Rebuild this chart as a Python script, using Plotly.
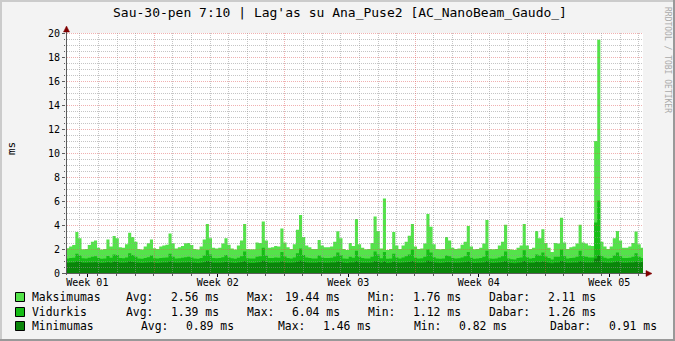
import plotly.graph_objects as go

# ---------------- data ----------------
TITLE = "Sau-30-pen 7:10 | Lag'as su Ana_Puse2 [AC_NanoBeam_Gaudo_]"
Y_LABEL = "ms"
WATERMARK = "RRDTOOL / TOBI OETIKER"
WEEK_LABELS = ["Week 01", "Week 02", "Week 03", "Week 04", "Week 05"]
SERIES_NAMES = ["Maksimumas", "Vidurkis", "Minimumas"]
STAT_LABELS = ["Avg:", "Max:", "Min:", "Dabar:"]
MAX_STATS = ["2.56 ms", "19.44 ms", "1.76 ms", "2.11 ms"]
AVG_STATS = ["1.39 ms", "6.04 ms", "1.12 ms", "1.26 ms"]
MIN_STATS = ["0.89 ms", "1.46 ms", "0.82 ms", "0.91 ms"]

# 4-hour samples (ms)
MAX_VALUES = [
    2.06, 2.20, 2.33, 3.42, 2.90, 1.97, 2.00, 2.33, 2.60, 2.70,
    2.10, 1.95, 2.00, 2.80, 2.20, 3.08, 2.90, 2.15, 2.10, 2.40,
    3.36, 3.00, 2.60, 2.00, 1.95, 2.20, 2.47, 2.80, 2.06, 2.00,
    2.20, 2.30, 2.35, 3.30, 2.47, 2.05, 2.15, 2.25, 2.47, 2.50,
    2.33, 2.00, 1.95, 2.20, 2.80, 4.08, 2.90, 2.10, 2.05, 2.10,
    2.45, 2.90, 2.35, 2.05, 1.95, 2.30, 2.70, 4.08, 2.00, 1.98,
    1.98, 2.55, 2.50, 4.30, 2.70, 2.10, 2.15, 2.25, 2.20, 3.70,
    2.55, 2.15, 2.00, 2.40, 3.60, 4.83, 3.00, 2.30, 2.15, 2.00,
    2.00, 2.75, 2.30, 2.15, 2.15, 2.20, 2.60, 3.47, 2.90, 2.00,
    1.92, 2.50, 2.25, 4.50, 2.40, 2.10, 1.98, 2.00, 2.50, 4.70,
    3.50, 2.05, 6.20, 1.92, 2.00, 3.42, 2.30, 2.00, 2.30, 2.60,
    3.10, 4.08, 2.20, 2.00, 2.05, 2.45, 4.92, 3.86, 2.40, 2.00,
    1.98, 2.00, 3.00, 2.70, 2.10, 2.00, 2.05, 2.35, 2.60, 3.92,
    2.20, 1.98, 2.00, 2.10, 2.45, 4.42, 2.00, 1.98, 2.00, 2.30,
    2.60, 4.03, 2.00, 1.95, 1.92, 2.10, 2.30, 4.08, 2.30, 2.00,
    2.10, 3.50, 2.90, 3.64, 2.50, 2.10, 1.76, 2.50, 2.45, 4.60,
    2.55, 2.00, 2.15, 2.20, 2.45, 4.03, 2.55, 2.45, 2.30, 2.25,
    11.00, 19.44, 2.60, 2.20, 2.00, 2.20, 2.90, 3.50, 2.70, 2.10,
    2.10, 2.20, 2.50, 3.46, 2.40, 2.11,
]
AVG_VALUES = [
    1.20, 1.25, 1.28, 1.60, 1.45, 1.22, 1.20, 1.28, 1.35, 1.40,
    1.25, 1.18, 1.20, 1.42, 1.28, 1.55, 1.50, 1.25, 1.22, 1.30,
    1.65, 1.50, 1.35, 1.20, 1.18, 1.25, 1.32, 1.45, 1.22, 1.20,
    1.25, 1.28, 1.30, 1.60, 1.35, 1.20, 1.22, 1.28, 1.32, 1.35,
    1.30, 1.20, 1.18, 1.25, 1.45, 1.90, 1.55, 1.25, 1.22, 1.25,
    1.32, 1.50, 1.30, 1.22, 1.18, 1.28, 1.40, 1.80, 1.22, 1.20,
    1.20, 1.35, 1.40, 2.10, 1.45, 1.25, 1.25, 1.30, 1.28, 1.75,
    1.38, 1.25, 1.20, 1.30, 1.65, 2.05, 1.50, 1.30, 1.25, 1.20,
    1.20, 1.45, 1.30, 1.25, 1.25, 1.28, 1.38, 1.70, 1.50, 1.20,
    1.18, 1.35, 1.28, 1.85, 1.35, 1.25, 1.20, 1.20, 1.35, 1.80,
    1.55, 1.22, 1.75, 1.18, 1.20, 1.60, 1.30, 1.20, 1.30, 1.40,
    1.55, 1.95, 1.28, 1.20, 1.22, 1.35, 1.95, 1.70, 1.32, 1.20,
    1.18, 1.20, 1.45, 1.40, 1.25, 1.20, 1.22, 1.30, 1.40, 1.75,
    1.28, 1.18, 1.20, 1.25, 1.35, 1.85, 1.20, 1.18, 1.20, 1.30,
    1.40, 1.80, 1.20, 1.15, 1.12, 1.25, 1.30, 1.90, 1.32, 1.20,
    1.25, 1.55, 1.45, 1.70, 1.38, 1.25, 1.12, 1.35, 1.35, 1.95,
    1.40, 1.20, 1.25, 1.28, 1.35, 1.85, 1.40, 1.35, 1.30, 1.30,
    4.20, 6.04, 1.40, 1.28, 1.20, 1.25, 1.45, 1.70, 1.40, 1.25,
    1.25, 1.28, 1.35, 1.65, 1.35, 1.26,
]
MIN_VALUES = [
    0.86, 0.87, 0.88, 0.95, 0.92, 0.85, 0.85, 0.87, 0.88, 0.90,
    0.86, 0.84, 0.85, 0.90, 0.86, 0.93, 0.92, 0.86, 0.85, 0.87,
    0.96, 0.92, 0.88, 0.85, 0.84, 0.86, 0.88, 0.90, 0.85, 0.84,
    0.86, 0.87, 0.88, 0.95, 0.88, 0.85, 0.85, 0.87, 0.88, 0.89,
    0.88, 0.85, 0.84, 0.86, 0.90, 1.00, 0.93, 0.86, 0.85, 0.86,
    0.88, 0.92, 0.87, 0.85, 0.84, 0.87, 0.89, 0.98, 0.85, 0.84,
    0.84, 0.88, 0.90, 1.02, 0.92, 0.86, 0.86, 0.87, 0.87, 0.96,
    0.88, 0.86, 0.85, 0.87, 0.94, 1.02, 0.92, 0.87, 0.86, 0.85,
    0.85, 0.90, 0.87, 0.86, 0.86, 0.87, 0.88, 0.95, 0.92, 0.85,
    0.84, 0.88, 0.87, 0.98, 0.88, 0.86, 0.85, 0.85, 0.88, 0.97,
    0.92, 0.85, 0.96, 0.84, 0.85, 0.94, 0.87, 0.85, 0.87, 0.89,
    0.92, 1.00, 0.87, 0.85, 0.85, 0.88, 1.02, 0.95, 0.88, 0.85,
    0.84, 0.85, 0.90, 0.89, 0.86, 0.85, 0.85, 0.87, 0.89, 0.96,
    0.87, 0.84, 0.85, 0.86, 0.88, 0.98, 0.85, 0.84, 0.85, 0.87,
    0.89, 0.97, 0.85, 0.83, 0.82, 0.86, 0.87, 1.00, 0.88, 0.85,
    0.86, 0.93, 0.90, 0.95, 0.89, 0.86, 0.82, 0.88, 0.88, 1.00,
    0.89, 0.85, 0.86, 0.87, 0.88, 0.98, 0.89, 0.88, 0.87, 0.87,
    1.20, 1.46, 0.89, 0.87, 0.85, 0.86, 0.90, 0.95, 0.88, 0.86,
    0.86, 0.87, 0.88, 0.94, 0.88, 0.91,
]

# ---------------- geometry / style ----------------
W, H = 675, 341
PL, PR, PT, PB = 66, 643, 33, 273          # plot area in pixels
X_MAX = 30.955                            # days shown
Y_MAX = 20
BIN_DAYS = 1 / 6                          # 4 hour bins
DAY0 = 0.712                              # first midnight grid line (days)
WEEK_TICK0 = 1.145                        # first week label position (days)

COL_MAX = "#54E34A"
COL_AVG = "#16BD16"
COL_MIN = "#0A850A"
BACK = "#F3F3F3"
GRID = "rgba(150,150,150,0.55)"
MGRID = "rgba(222,80,80,0.45)"
AXIS = "#5C5C5C"
ARROW = "#800000"
FONT = "DejaVu Sans Mono"


def px_x(px):
    return (px - PL) / (PR - PL)


def px_y(py):
    return (PB - py) / (PB - PT)


def day_px(d):
    return PL + d * (PR - PL) / X_MAX


def val_py(v):
    return PB - v * (PB - PT) / Y_MAX


def step_xy(vals):
    xs = [i * BIN_DAYS for i in range(len(vals))] + [len(vals) * BIN_DAYS]
    ys = list(vals) + [vals[-1]]
    return xs, ys


fig = go.Figure()
for name, vals, col in [(SERIES_NAMES[0], MAX_VALUES, COL_MAX),
                        (SERIES_NAMES[1], AVG_VALUES, COL_AVG),
                        (SERIES_NAMES[2], MIN_VALUES, COL_MIN)]:
    xs, ys = step_xy(vals)
    fig.add_trace(go.Scatter(x=xs, y=ys, mode="lines", line_shape="hv",
                             line=dict(width=0, color=col), fill="tozeroy",
                             fillcolor=col, name=name, showlegend=False,
                             hoverinfo="skip"))

shapes = []
# horizontal grid (over the data, like rrdtool)
k = 1
while k * 0.5 <= Y_MAX + 1e-9:
    v = k * 0.5
    py = round(val_py(v)) + 0.5
    major = abs(v % 2) < 1e-9
    shapes.append(dict(type="line", xref="paper", yref="paper", layer="above",
                       x0=px_x(PL + 1), x1=px_x(PR), y0=px_y(py), y1=px_y(py),
                       line=dict(color=MGRID if major else GRID, width=1, dash="1px,1px")))
    k += 1
# vertical grid
k = 0
while DAY0 + k < X_MAX:
    px = round(day_px(DAY0 + k)) + 0.5
    major = (k % 7) == 4
    shapes.append(dict(type="line", xref="paper", yref="paper", layer="above",
                       x0=px_x(px), x1=px_x(px), y0=px_y(PB - 1), y1=px_y(PT),
                       line=dict(color=MGRID if major else GRID, width=1, dash="1px,1px")))
    k += 1
# axes + arrows
shapes.append(dict(type="line", xref="paper", yref="paper", layer="above",
                   x0=px_x(PL + 0.5), x1=px_x(PL + 0.5), y0=px_y(PB + 2), y1=px_y(PT - 4),
                   line=dict(color=AXIS, width=1)))
shapes.append(dict(type="line", xref="paper", yref="paper", layer="above",
                   x0=px_x(PL - 2), x1=px_x(PR + 4), y0=px_y(PB + 0.5), y1=px_y(PB + 0.5),
                   line=dict(color=AXIS, width=1)))
ax, ay = PL + 0.5, PT - 7
shapes.append(dict(type="path", xref="paper", yref="paper", layer="above",
                   path=f"M {px_x(ax)},{px_y(ay)} L {px_x(ax-3)},{px_y(ay+6)} L {px_x(ax+3)},{px_y(ay+6)} Z",
                   fillcolor=ARROW, line=dict(color=ARROW, width=0.5)))
bx, by = PR + 9, PB + 0.5
shapes.append(dict(type="path", xref="paper", yref="paper", layer="above",
                   path=f"M {px_x(bx)},{px_y(by)} L {px_x(bx-6)},{px_y(by-3)} L {px_x(bx-6)},{px_y(by+3)} Z",
                   fillcolor=ARROW, line=dict(color=ARROW, width=0.5)))
# frame (shade A top/left, shade B bottom/right)
for (x0, y0, x1, y1, c) in [(0, 0, W, 2, "#CBCBCB"), (0, 0, 2, H, "#CBCBCB"),
                            (0, H - 2, W, H, "#999999"), (W - 2, 0, W, H, "#999999")]:
    shapes.append(dict(type="rect", xref="paper", yref="paper", layer="above",
                       x0=px_x(x0), x1=px_x(x1), y0=px_y(y0), y1=px_y(y1),
                       fillcolor=c, line=dict(width=0)))

annotations = []
annotations.append(dict(text=TITLE, xref="paper", yref="paper", x=px_x(340), y=px_y(12),
                        xanchor="center", yanchor="middle", showarrow=False,
                        font=dict(family=FONT, size=13, color="#000")))
annotations.append(dict(text=Y_LABEL, xref="paper", yref="paper", x=px_x(11), y=px_y(149),
                        xanchor="center", yanchor="middle", showarrow=False, textangle=-90,
                        font=dict(family=FONT, size=11, color="#000")))
annotations.append(dict(text=WATERMARK, xref="paper", yref="paper", x=px_x(667), y=px_y(5),
                        xanchor="center", yanchor="top", showarrow=False, textangle=90,
                        font=dict(family=FONT, size=8, color="#AAAAAA")))

# legend
ROW_Y = [297, 312, 326]
LABEL_X = [[124, 245, 366, 487], [124, 245, 366, 487], [139, 276, 412, 548]]
VALUE_END_X = [[221, 342, 463, 598], [221, 342, 463, 598], [236, 373, 509, 659]]
SWATCH = [COL_MAX, COL_AVG, COL_MIN]
for r, (name, stats) in enumerate(zip(SERIES_NAMES, [MAX_STATS, AVG_STATS, MIN_STATS])):
    cy = ROW_Y[r]
    shapes.append(dict(type="rect", xref="paper", yref="paper", layer="above",
                       x0=px_x(15.5), x1=px_x(24.5), y0=px_y(cy - 4.5), y1=px_y(cy + 4.5),
                       fillcolor=SWATCH[r], line=dict(color="#000", width=1)))
    annotations.append(dict(text=name, xref="paper", yref="paper", x=px_x(30), y=px_y(cy),
                            xanchor="left", yanchor="middle", showarrow=False,
                            font=dict(family=FONT, size=11.4, color="#000")))
    for c in range(4):
        annotations.append(dict(text=STAT_LABELS[c], xref="paper", yref="paper",
                                x=px_x(LABEL_X[r][c]), y=px_y(cy), xanchor="left",
                                yanchor="middle", showarrow=False,
                                font=dict(family=FONT, size=11.4, color="#000")))
        annotations.append(dict(text=stats[c], xref="paper", yref="paper",
                                x=px_x(VALUE_END_X[r][c]), y=px_y(cy), xanchor="right",
                                yanchor="middle", showarrow=False,
                                font=dict(family=FONT, size=11.4, color="#000")))

week_ticks = [WEEK_TICK0 + 7 * i for i in range(len(WEEK_LABELS))]

fig.update_layout(
    width=W, height=H, margin=dict(l=PL, r=W - PR, t=PT, b=H - PB),
    paper_bgcolor=BACK, plot_bgcolor="#FFFFFF", showlegend=False,
    shapes=shapes, annotations=annotations,
    xaxis=dict(range=[0, X_MAX], showgrid=False, zeroline=False, showline=False,
               tickmode="array", tickvals=week_ticks, ticktext=WEEK_LABELS,
               ticks="outside", ticklen=3, tickcolor="#000", tickwidth=1,
               ticklabelstandoff=-3,
               tickfont=dict(family=FONT, size=10, color="#000"),
               minor=dict(tick0=DAY0, dtick=1, ticks="outside", ticklen=2,
                          tickcolor=AXIS, showgrid=False),
               fixedrange=True),
    yaxis=dict(range=[0, Y_MAX], showgrid=False, zeroline=False, showline=False,
               tickmode="linear", tick0=0, dtick=2, ticks="outside", ticklen=3,
               tickcolor=AXIS, tickwidth=1,
               tickfont=dict(family=FONT, size=10, color="#000"),
               minor=dict(dtick=0.5, ticks="outside", ticklen=1, tickcolor=AXIS,
                          showgrid=False),
               fixedrange=True),
)

fig.write_html("out.html", config={"displayModeBar": False})
